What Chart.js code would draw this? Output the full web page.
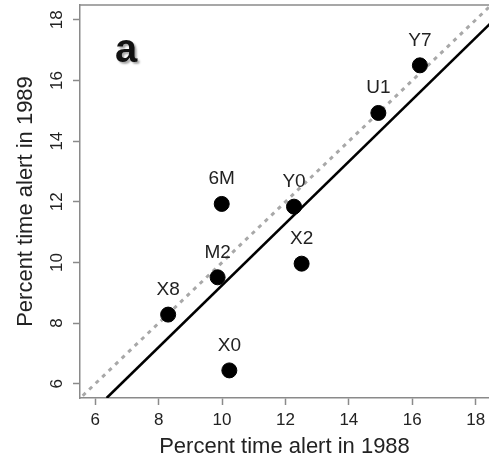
<!DOCTYPE html>
<html>
<head>
<meta charset="utf-8">
<script src="https://cdn.jsdelivr.net/npm/chart.js@4.4.1/dist/chart.umd.min.js"></script>
<style>
  html, body { margin: 0; padding: 0; background: #fff; }
  #wrap { width: 489px; height: 462px; }
</style>
</head>
<body>
<div id="wrap"><canvas id="c" width="489" height="462"></canvas></div>
<script>
// Site codes and percent time alert
const sites   = ['X8', 'M2', '6M', 'X0', 'Y0', 'X2', 'U1', 'Y7'];
const alert88 = [8.30, 9.86, 9.99, 10.23, 12.27, 12.51, 14.93, 16.24];
const alert89 = [8.28, 9.51, 11.93, 6.44, 11.84, 9.96, 14.93, 16.50];

// 1:1 reference line (dotted grey) and fitted line (solid black)
const identityX = [5.4, 18.6];
const identityY = [5.4, 18.6];
const fitX      = [6.36, 18.5];
const fitY      = [5.53, 17.92];

const xTicks = [6, 8, 10, 12, 14, 16, 18];
const yTicks = [6, 8, 10, 12, 14, 16, 18];

const FONT       = "'Liberation Sans', Arial, sans-serif";
const AXIS_GREY  = '#8a8a8a';
const TEXT_COLOR = '#222';

const toPoints = (xs, ys) => xs.map((x, i) => ({ x, y: ys[i] }));

// Draws tick labels (y ones rotated like R), site codes above points,
// the top frame line and the panel letter.
const annotatePlugin = {
    id: 'annotate',
    afterDraw(chart) {
        const { ctx, chartArea } = chart;
        const xs = chart.scales.x;
        const ys = chart.scales.y;
        ctx.save();

        // top frame line
        ctx.strokeStyle = AXIS_GREY;
        ctx.lineWidth   = 1.5;
        ctx.beginPath();
        ctx.moveTo(chartArea.left, chartArea.top);
        ctx.lineTo(chartArea.right, chartArea.top);
        ctx.stroke();

        ctx.fillStyle    = TEXT_COLOR;
        ctx.font         = `17px ${FONT}`;
        ctx.textAlign    = 'center';
        ctx.textBaseline = 'middle';

        // x tick labels
        for (const v of xTicks) {
            ctx.fillText(String(v), xs.getPixelForValue(v), 420);
        }

        // y tick labels, parallel to the axis
        for (const v of yTicks) {
            ctx.save();
            ctx.translate(57, ys.getPixelForValue(v));
            ctx.rotate(-Math.PI / 2);
            ctx.fillText(String(v), 0, 0);
            ctx.restore();
        }

        // site labels
        ctx.font = `19px ${FONT}`;
        sites.forEach((s, i) => {
            const px = xs.getPixelForValue(alert88[i]);
            const py = ys.getPixelForValue(alert89[i]);
            ctx.fillText(s, px, py - 25);
        });

        // panel letter
        ctx.font          = `bold 40px ${FONT}`;
        ctx.shadowColor   = 'rgba(0,0,0,0.35)';
        ctx.shadowOffsetX = 2;
        ctx.shadowOffsetY = 2;
        ctx.shadowBlur    = 2;
        ctx.fillStyle     = '#111';
        ctx.fillText('a', 126, 51);
        ctx.restore();
    },
};

const axisCommon = {
    type: 'linear',
    border: { display: true, color: AXIS_GREY, width: 1.5 },
    grid: {
        drawOnChartArea: false,
        drawTicks: true,
        tickLength: 7,
        tickColor: AXIS_GREY,
        tickWidth: 1.5,
    },
    ticks: { display: false },
};

new Chart(document.getElementById('c'), {
    type: 'scatter',
    data: {
        datasets: [
            {
                type: 'line',
                data: toPoints(identityX, identityY),
                borderColor: '#a8a8a8',
                borderWidth: 3,
                borderDash: [4, 5],
                pointRadius: 0,
                fill: false,
                order: 3,
            },
            {
                type: 'line',
                data: toPoints(fitX, fitY),
                borderColor: '#000',
                borderWidth: 2.6,
                pointRadius: 0,
                fill: false,
                order: 2,
            },
            {
                data: toPoints(alert88, alert89),
                backgroundColor: '#000',
                borderColor: '#000',
                pointRadius: 7.5,
                order: 1,
            },
        ],
    },
    options: {
        responsive: false,
        animation: false,
        layout: { autoPadding: false, padding: { left: 0, right: 0, top: 5, bottom: 0 } },
        plugins: { legend: { display: false }, tooltip: { enabled: false } },
        scales: {
            x: {
                ...axisCommon,
                min: 5.52,
                max: 18.42,
                afterBuildTicks: s => { s.ticks = xTicks.map(v => ({ value: v })); },
                afterFit: s => { s.height = 64; },
                title: {
                    display: true,
                    text: 'Percent time alert in 1988',
                    color: TEXT_COLOR,
                    font: { family: FONT, size: 22 },
                    padding: { top: 0, bottom: 2 },
                },
            },
            y: {
                ...axisCommon,
                min: 5.53,
                max: 18.49,
                afterBuildTicks: s => { s.ticks = yTicks.map(v => ({ value: v })); },
                afterFit: s => { s.width = 80; },
                title: {
                    display: true,
                    text: 'Percent time alert in 1989',
                    color: TEXT_COLOR,
                    font: { family: FONT, size: 22 },
                    padding: { top: 13, bottom: 0 },
                },
            },
        },
    },
    plugins: [annotatePlugin],
});
</script>
</body>
</html>
